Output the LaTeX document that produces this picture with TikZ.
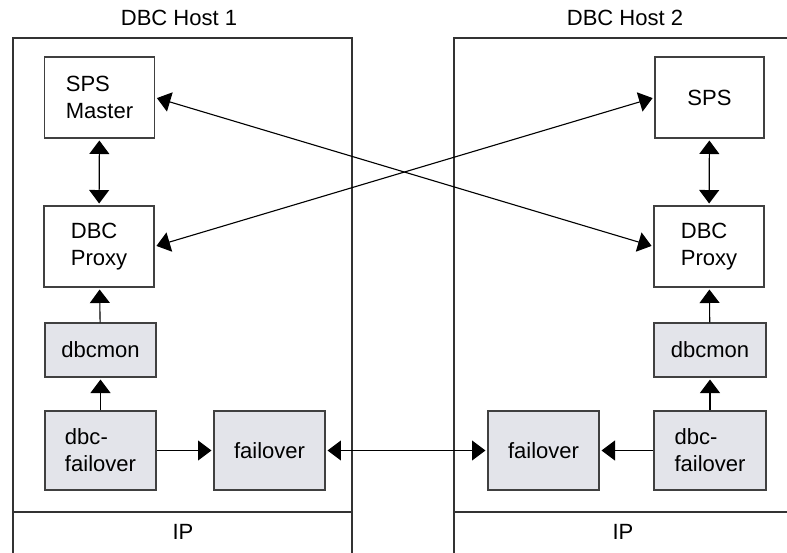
\documentclass[tikz,border=0pt]{standalone}
\usepackage{fontspec}
\setmainfont{Liberation Sans}
\usetikzlibrary{arrows.meta}

\definecolor{boxgray}{RGB}{227,228,234}
\tikzset{
  hostbox/.style={line width=1pt,draw=black!80},
  plainbox/.style={draw=black!75,line width=0.9pt,fill=white,align=left,inner sep=0pt},
  graybox/.style={plainbox,fill=boxgray},
  link/.style={line width=0.95pt,shorten >=1.7pt},
  twolink/.style={link,shorten <=1.7pt}
}

\begin{document}
\begin{tikzpicture}[x=0.03cm,y=-0.03cm,>={Triangle[length=11.5pt,width=17pt]},font=\fontsize{18.8}{23}\selectfont]
		\useasboundingbox (0,0) rectangle (787,552);
		\clip (0,0) rectangle (787,552);
		% hosts
		\draw [hostbox] (13,560) -- (13,38) -- (352,38) -- (352,560);
		\draw [hostbox] (13,512) -- (352,512);
		\draw [hostbox] (454,560) -- (454,38) -- (800,38);
		\draw [hostbox] (454,512) -- (800,512);
		\node (hostA) at (179,18) {DBC Host 1};
		\node (hostB) at (625,18) {DBC Host 2};
		\node (ipA) at (183,532) {IP};
		\node (ipB) at (623,532) {IP};
		% host 1
		\node (spsm) at (99.5,97.5) [plainbox,minimum width=110*0.03cm,minimum height=81*0.03cm] {SPS\\Master};
		\node (proxyA) at (99,246.5) [plainbox,minimum width=110*0.03cm,minimum height=81*0.03cm] {DBC\\Proxy};
		\node (monA) at (100.5,350) [graybox,minimum width=111*0.03cm,minimum height=54*0.03cm] {dbcmon};
		\node (dfA) at (100.5,450.5) [graybox,minimum width=111*0.03cm,minimum height=79*0.03cm] {dbc-\\failover};
		\node (foA) at (269.5,450.5) [graybox,minimum width=111*0.03cm,minimum height=79*0.03cm] {failover};
		% host 2
		\node (sps) at (709.5,97.5) [plainbox,minimum width=109*0.03cm,minimum height=81*0.03cm] {SPS};
		\node (proxyB) at (709,246.5) [plainbox,minimum width=110*0.03cm,minimum height=81*0.03cm] {DBC\\Proxy};
		\node (monB) at (710,350) [graybox,minimum width=112*0.03cm,minimum height=54*0.03cm] {dbcmon};
		\node (dfB) at (710,450.5) [graybox,minimum width=112*0.03cm,minimum height=79*0.03cm] {dbc-\\failover};
		\node (foB) at (543.5,450.5) [graybox,minimum width=111*0.03cm,minimum height=79*0.03cm] {failover};
		% links
		\draw [twolink,<->] (spsm) -- (proxyA);
		\draw [link,->] (monA) -- (proxyA);
		\draw [link,->] (dfA) -- (monA);
		\draw [link,->] (dfA) -- (foA);
		\draw [twolink,<->] (sps) -- (proxyB);
		\draw [link,->] (monB) -- (proxyB);
		\draw [link,->] (dfB) -- (monB);
		\draw [link,->] (dfB) -- (foB);
		\draw [twolink,<->] (foA) -- (foB);
		\draw [twolink,<->] (spsm.east) -- (proxyB.west);
		\draw [twolink,<->] (proxyA.east) -- (sps.west);
\end{tikzpicture}
\end{document}
